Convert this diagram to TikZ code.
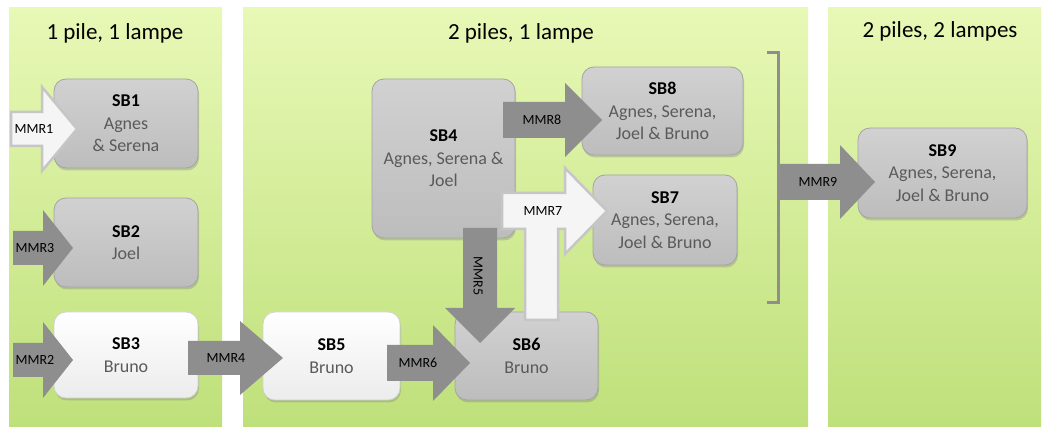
\documentclass[tikz,border=0pt]{standalone}
\usepackage{fontspec}
\setmainfont{Carlito}
\usetikzlibrary{shadows}
\definecolor{panT}{HTML}{E8F8B6}
\definecolor{panB}{HTML}{BEE07A}
\definecolor{arrG}{HTML}{8E8E8E}
\definecolor{txtG}{HTML}{5A5A5A}
\definecolor{brdG}{HTML}{A4A4A4}
\tikzset{
  panel/.style={top color=panT, bottom color=panB, draw=none},
  paneltitle/.style={font=\fontsize{23}{25}\selectfont, text=black},
  sbbox/.style={rounded corners=12pt, top color=gray!36, bottom color=gray!52, draw=brdG, line width=0.8pt,
    drop shadow={opacity=0.35, shadow xshift=1pt, shadow yshift=-2.5pt},
    align=center, text=txtG, font=\fontsize{18}{22.5}\selectfont, inner sep=0pt},
  sblight/.style={sbbox, top color=white, bottom color=gray!15, draw=gray!35},
  garrow/.style={fill=arrG, draw=none},
  warrow/.style={fill=gray!8, draw=gray!45, line width=2.5pt, line join=miter},
  mmr/.style={font=\fontsize{14}{14}\selectfont, text=black, inner sep=0pt},
  bracket/.style={draw=arrG, line width=3pt}
}
% right-pointing block arrow: style, x0, xbase, xtip, yc, body half, head half
\newcommand\blockR[7]{\path[#1] (#2,#5-#6) -- (#3,#5-#6) -- (#3,#5-#7) -- (#4,#5) -- (#3,#5+#7) -- (#3,#5+#6) -- (#2,#5+#6) -- cycle;}
% down-pointing block arrow: style, xc, y0, ybase, ytip, body half, head half
\newcommand\blockD[7]{\path[#1] (#2-#6,#3) -- (#2+#6,#3) -- (#2+#6,#4) -- (#2+#7,#4) -- (#2,#5) -- (#2-#7,#4) -- (#2-#6,#4) -- cycle;}
\begin{document}
\begin{tikzpicture}[x=1pt,y=-1pt]
\useasboundingbox (0,0) rectangle (1045,427);
\fill[white] (0,0) rectangle (1045,427);
% panels
\path[panel] (9,8) rectangle (222,430);
\path[panel] (243,8) rectangle (808,430);
\path[panel] (828,8) rectangle (1041,430);
\node[paneltitle] (t1) at (115,33) {1 pile, 1 lampe};
\node[paneltitle] (t2) at (521,33) {2 piles, 1 lampe};
\node[paneltitle] (t3) at (940,31) {2 piles, 2 lampes};
% boxes
\node[sbbox, minimum width=144pt, minimum height=89pt] (sb1) at (126,123.5) {\textcolor{black}{\textbf{SB1}}\\Agnes\\\& Serena};
\node[sbbox, minimum width=144pt, minimum height=89pt] (sb2) at (126,242.5) {\textcolor{black}{\textbf{SB2}}\\Joel};
\node[sblight, minimum width=144pt, minimum height=86pt] (sb3) at (126,355) {\textcolor{black}{\textbf{SB3}}\\Bruno};
\node[sblight, minimum width=137pt, minimum height=88pt] (sb5) at (331.5,356) {\textcolor{black}{\textbf{SB5}}\\Bruno};
\node[sbbox, minimum width=143pt, minimum height=88pt] (sb6) at (526.5,356) {\textcolor{black}{\textbf{SB6}}\\Bruno};
\node[sbbox, minimum width=143pt, minimum height=159pt] (sb4) at (443.5,158.5) {\textcolor{black}{\textbf{SB4}}\\Agnes, Serena \&\\Joel};
\node[sbbox, minimum width=161pt, minimum height=88pt] (sb8) at (662.5,111) {\textcolor{black}{\textbf{SB8}}\\Agnes, Serena,\\Joel \& Bruno};
\node[sbbox, minimum width=144pt, minimum height=90pt] (sb7) at (665,220) {\textcolor{black}{\textbf{SB7}}\\Agnes, Serena,\\Joel \& Bruno};
\node[sbbox, minimum width=169pt, minimum height=90pt] (sb9) at (942.5,173) {\textcolor{black}{\textbf{SB9}}\\Agnes, Serena,\\Joel \& Bruno};
% bracket
\draw[bracket] (767,53) -- (778,53) -- (778,303) -- (767,303);
% arrows
\blockR{warrow}{11}{42}{77}{129}{17}{42}
\node[mmr] (m1) at (34,129) {MMR1};
\blockR{garrow}{13}{43}{73}{248}{17}{38}
\node[mmr] (m3) at (35,248) {MMR3};
\blockR{garrow}{13}{43}{73}{360}{17}{38}
\node[mmr] (m2) at (35,360) {MMR2};
\blockR{garrow}{188}{240}{283}{358}{17}{37}
\node[mmr] (m4) at (226,358) {MMR4};
\blockR{garrow}{387}{433}{470}{363}{18}{38}
\node[mmr] (m6) at (418,363) {MMR6};
\blockD{garrow}{480}{228}{308}{343}{17}{35}
\node[mmr, rotate=-90] (m5) at (478,276) {MMR5};
\blockR{garrow}{503}{565}{602}{120}{18}{37}
\node[mmr] (m8) at (542,120) {MMR8};
\path[warrow] (502,193) -- (565,193) -- (565,168) -- (607,211) -- (565,254) -- (565,229)
  -- (558,229) -- (558,320) -- (525,320) -- (525,229) -- (502,229) -- cycle;
\node[mmr] (m7) at (543,211) {MMR7};
\blockR{garrow}{777}{840}{875}{182}{18}{37}
\node[mmr] (m9) at (818,182) {MMR9};
\end{tikzpicture}
\end{document}
